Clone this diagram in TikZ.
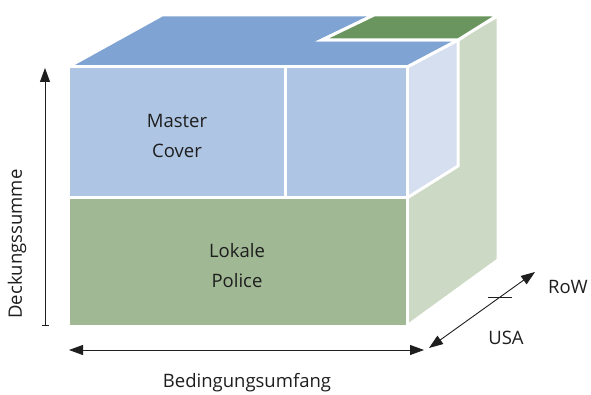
\documentclass[tikz,border=0pt]{standalone}
\usepackage{fontspec}
\setmainfont{Open Sans}
\usetikzlibrary{arrows.meta}
\definecolor{topblue}{RGB}{127,164,211}
\definecolor{frontblue}{RGB}{175,197,228}
\definecolor{sideblue}{RGB}{214,223,240}
\definecolor{topgreen}{RGB}{107,149,94}
\definecolor{frontgreen}{RGB}{160,185,148}
\definecolor{sidegreen}{RGB}{204,217,196}
\definecolor{ink}{RGB}{30,30,30}
\begin{document}
\begin{tikzpicture}[x=1pt,y=-1pt,
  face/.style={draw=white,line width=3pt,line join=miter},
  axis/.style={draw=ink,line width=0.9pt},
  tipa/.tip={Triangle[length=14pt,width=10pt]},
  lbl/.style={text=ink,font=\fontsize{18.5}{30}\selectfont,align=center,inner sep=0pt}]
\useasboundingbox (0,0) rectangle (591,395);
% right side (full)
\fill[sidegreen,face] (407,67) -- (498,16) -- (498,260) -- (407,326) -- cycle;
% right side of the upper block
\fill[sideblue,face] (407,67) -- (458,40) -- (458,166) -- (407,198) -- cycle;
% top faces
\fill[topblue,face] (68,67) -- (162,15) -- (374,15) -- (322,40) -- (458,40) -- (407,67) -- cycle;
\fill[topgreen,face] (322,40) -- (374,15) -- (498,15) -- (458,40) -- cycle;
% front faces
\fill[frontblue,face] (68,67) rectangle (285,198);
\fill[frontblue,face] (285,67) rectangle (407,198);
\fill[frontgreen,face] (68,198) rectangle (407,326);
% labels in the faces
\node[lbl] (master) at (177,136) {Master\\Cover};
\node[lbl] (lokale) at (237,266) {Lokale\\Police};
% axes
\coordinate (vbot) at (45,326);
\coordinate (vtop) at (45,68);
\draw[axis,{Bar[width=7pt]}-tipa] (vbot) -- (vtop);
\coordinate (hl) at (69,350);
\coordinate (hr) at (424,350);
\draw[axis,tipa-tipa] (hl) -- (hr);
\coordinate (dl) at (429,348);
\coordinate (dr) at (535,272);
\draw[axis,tipa-tipa] (dl) -- (dr);
\coordinate (tl) at (488,297);
\coordinate (tr) at (512,297);
\draw[axis] (tl) -- (tr);
% axis labels
\node[lbl,rotate=90] (deck) at (17,244) {Deckungssumme};
\node[lbl] (bed) at (247,383) {Bedingungsumfang};
\node[lbl] (row) at (568,287) {RoW};
\node[lbl] (usa) at (506,338) {USA};
\end{tikzpicture}
\end{document}
